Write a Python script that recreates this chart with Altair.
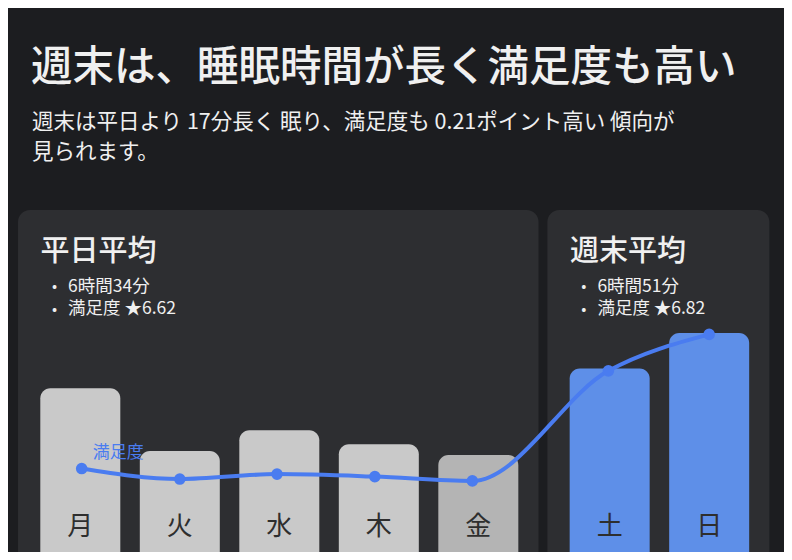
import altair as alt
import pandas as pd

# ---------------- data ----------------
days = ["月", "火", "水", "木", "金", "土", "日"]
slot = [0, 1, 2, 3, 4, 5.32, 6.32]            # bar slot (weekend group set apart)
sleep_min = [403.1, 390.4, 394.6, 391.8, 389.6, 407.1, 414.3]   # sleep time (minutes)
satisfaction = [6.635, 6.618, 6.626, 6.622, 6.615, 6.793, 6.852]
sat_slot = [0.014, 1.0, 1.977, 2.96, 3.94, 5.307, 6.32]
group = ["平日", "平日", "平日", "平日", "平日", "週末", "週末"]
bar_colors = ["#c9c9c9", "#c9c9c9", "#c9c9c9", "#c9c9c9", "#b4b4b4", "#5e8fe8", "#5e8fe8"]

panel_groups = ["平日", "週末"]
panel_names = ["平日平均", "週末平均"]
panel_time = ["6時間34分", "6時間51分"]
panel_sat = ["満足度 ★6.62", "満足度 ★6.82"]

title_text = "週末は、睡眠時間が長く満足度も高い"
subtitle_text = ["週末は平日より 17分長く 眠り、満足度も 0.21ポイント高い 傾向が", "見られます。"]
series_label = "満足度"

# ---------------- styles ----------------
BG = "#1c1d20"
PANEL = "#2d2e31"
TEXT = "#f0f0f0"
BLUE = "#4a7cf0"
DAYTXT = "#2e2e2e"
FONT = "Noto Sans CJK JP"

W, H = 776, 544
PAD_L, PAD_R = 0.626, 0.605
HALF = 0.402

df = pd.DataFrame({
    "day": days, "slot": slot, "sleep": sleep_min, "sat": satisfaction,
    "sat_slot": sat_slot, "group": group, "color": bar_colors,
})

panels = pd.DataFrame({
    "group": panel_groups,
    "name": panel_names,
})
panels["start"] = [min(s for s, g in zip(slot, group) if g == pg) - PAD_L for pg in panel_groups]
panels["end"] = [max(s for s, g in zip(slot, group) if g == pg) + PAD_R for pg in panel_groups]
panels["lines"] = [[t, s] for t, s in zip(panel_time, panel_sat)]
panels["bullets"] = [["•", "•"] for _ in panel_groups]

xs = alt.Scale(domain=[-0.7266, 7.072], nice=False, zero=False)
ys_sleep = alt.Scale(domain=[370, 480], nice=False, zero=False)
ys_sat = alt.Scale(domain=[6.5, 7.38], nice=False, zero=False)

one = pd.DataFrame({"k": [0]})

panel_rect = alt.Chart(panels).mark_rect(color=PANEL, cornerRadius=12).encode(
    x=alt.X("start:Q", scale=xs, axis=None),
    x2="end:Q",
    y=alt.value(202),
    y2=alt.value(620),
)

bars = alt.Chart(df).transform_calculate(
    x0=f"datum.slot - {HALF}", x1=f"datum.slot + {HALF}"
).mark_bar(cornerRadiusTopLeft=10, cornerRadiusTopRight=10).encode(
    x=alt.X("x0:Q", scale=xs, axis=None),
    x2="x1:Q",
    y=alt.Y("sleep:Q", scale=ys_sleep, axis=None),
    y2=alt.value(620),
    color=alt.Color("color:N", scale=None),
)

day_labels = alt.Chart(df).mark_text(
    font=FONT, fontSize=26, color=DAYTXT, align="center", baseline="middle"
).encode(
    x=alt.X("slot:Q", scale=xs, axis=None),
    y=alt.value(518.8),
    text="day:N",
)

line = alt.Chart(df).mark_line(
    interpolate="monotone", strokeWidth=4, color=BLUE
).encode(
    x=alt.X("sat_slot:Q", scale=xs, axis=None),
    y=alt.Y("sat:Q", scale=ys_sat, axis=None),
    order="sat_slot:Q",
)

points = alt.Chart(df).mark_circle(size=135, opacity=1, color=BLUE).encode(
    x=alt.X("sat_slot:Q", scale=xs, axis=None),
    y=alt.Y("sat:Q", scale=ys_sat, axis=None),
)

series_lbl = alt.Chart(df.iloc[[0]]).mark_text(
    font=FONT, fontSize=17, color=BLUE, align="left", baseline="middle", dx=11, dy=-16
).encode(
    x=alt.X("sat_slot:Q", scale=xs, axis=None),
    y=alt.Y("sat:Q", scale=ys_sat, axis=None),
    text=alt.value(series_label),
)

panel_title = alt.Chart(panels).mark_text(
    font=FONT, fontSize=29, fontWeight=500, color=TEXT, align="left", baseline="middle", dx=22.5
).encode(
    x=alt.X("start:Q", scale=xs, axis=None),
    y=alt.value(244.3),
    text="name:N",
)

bullets = alt.Chart(panels).mark_text(
    font=FONT, fontSize=15, color=TEXT, align="center", baseline="top", dx=36.5, lineHeight=22.3
).encode(x=alt.X("start:Q", scale=xs, axis=None), y=alt.value(271.3), text="bullets:N")

bullet_text = alt.Chart(panels).mark_text(
    font=FONT, fontSize=17.5, color=TEXT, align="left", baseline="top", dx=50, lineHeight=22.3
).encode(x=alt.X("start:Q", scale=xs, axis=None), y=alt.value(269.8), text="lines:N")

title = alt.Chart(one).mark_text(
    font=FONT, fontSize=41.5, fontWeight=500, color=TEXT, align="left", baseline="middle"
).encode(x=alt.value(23), y=alt.value(61.1), text=alt.value(title_text))

subtitle = alt.Chart(one).mark_text(
    font=FONT, fontSize=21.5, color=TEXT, align="left", baseline="top", lineHeight=30
).encode(x=alt.value(24), y=alt.value(104), text=alt.value(subtitle_text))

chart = alt.layer(
    panel_rect, bars, day_labels, line, points, series_lbl,
    panel_title, bullets, bullet_text, title, subtitle,
).resolve_scale(y="independent").properties(
    width=W, height=H, autosize=alt.AutoSizeParams(type="none"), padding=0,
).configure(background=BG).configure_view(stroke=None)

chart.save("out.html", embed_options={"renderer": "svg", "actions": False})
